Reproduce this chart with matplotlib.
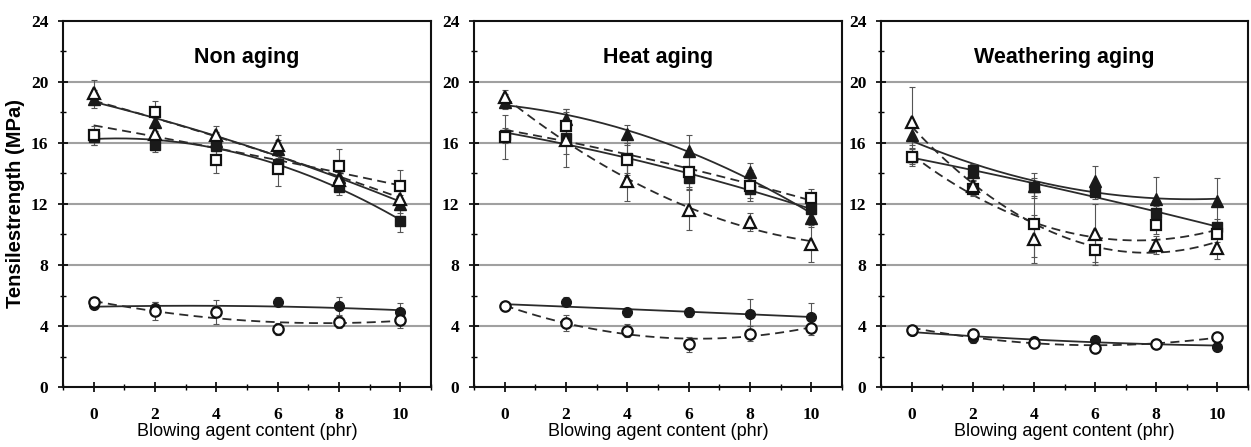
import numpy as np
import matplotlib
matplotlib.use("Agg")
import matplotlib.pyplot as plt
from matplotlib.ticker import MultipleLocator

# ---------------- data ----------------
x = [0, 2, 4, 6, 8, 10]
titles = ["Non aging", "Heat aging", "Weathering aging"]
xticks = [0, 2, 4, 6, 8, 10]
yticks = [0, 4, 8, 12, 16, 20, 24]

# Non aging
na_tri_open = [19.3, 16.6, 16.5, 15.9, 13.6, 12.3]
na_tri_fill = [18.9, 17.4, 16.1, 15.6, 13.8, 12.0]
na_sq_open = [16.5, 18.0, 14.9, 14.3, 14.5, 13.2]
na_sq_fill = [16.4, 15.9, 15.8, 14.6, 13.1, 10.9]
na_ci_open = [5.55, 5.0, 4.9, 3.8, 4.25, 4.4]
na_ci_fill = [5.4, 5.2, 5.0, 5.6, 5.3, 4.9]
na_err_tri_open = [0.8, 0.6, 0.6, 0.6, 0.7, 0.7]
na_err_tri_fill = [0.6, 0.6, 0.6, 0.6, 0.6, 0.6]
na_err_sq_open = [0.6, 0.75, 0.9, 1.1, 1.1, 1.0]
na_err_sq_fill = [0.5, 0.5, 0.5, 0.6, 0.5, 0.75]
na_err_ci_open = [0.3, 0.6, 0.8, 0.4, 0.4, 0.5]
na_err_ci_fill = [0.3, 0.4, 0.4, 0.3, 0.6, 0.6]

# Heat aging
ha_tri_open = [19.0, 16.2, 13.5, 11.6, 10.8, 9.4]
ha_tri_fill = [18.7, 17.6, 16.6, 15.5, 14.1, 11.1]
ha_sq_open = [16.4, 17.1, 14.9, 14.1, 13.2, 12.4]
ha_sq_fill = [16.5, 16.3, 15.0, 13.7, 13.0, 11.7]
ha_ci_open = [5.3, 4.2, 3.7, 2.8, 3.5, 3.9]
ha_ci_fill = [5.3, 5.6, 4.9, 4.9, 4.8, 4.6]
ha_err_tri_open = [0.5, 1.8, 1.3, 1.3, 0.6, 1.2]
ha_err_tri_fill = [0.5, 0.6, 0.6, 1.0, 0.6, 0.6]
ha_err_sq_open = [1.45, 1.1, 1.0, 1.0, 1.0, 0.6]
ha_err_sq_fill = [0.5, 1.0, 1.0, 0.7, 0.6, 0.6]
ha_err_ci_open = [0.3, 0.5, 0.4, 0.5, 0.5, 0.5]
ha_err_ci_fill = [0.3, 0.3, 0.3, 0.3, 1.0, 0.9]

# Weathering aging
wa_tri_open = [17.4, 13.2, 9.7, 10.0, 9.3, 9.1]
wa_tri_fill = [16.5, 14.1, 13.2, 13.5, 12.3, 12.2]
wa_sq_open = [15.1, 13.0, 10.7, 9.0, 10.6, 10.0]
wa_sq_fill = [15.1, 14.2, 13.1, 12.8, 11.4, 10.5]
wa_ci_open = [3.75, 3.5, 2.9, 2.55, 2.85, 3.3]
wa_ci_fill = [3.7, 3.2, 3.0, 3.1, 2.85, 2.65]
wa_err_tri_open = [2.3, 0.6, 1.6, 2.0, 0.6, 0.7]
wa_err_tri_fill = [0.6, 0.5, 0.8, 1.0, 1.5, 1.5]
wa_err_sq_open = [0.6, 0.5, 2.2, 0.8, 0.6, 0.5]
wa_err_sq_fill = [0.5, 0.4, 0.6, 0.5, 0.5, 0.5]
wa_err_ci_open = [0.2, 0.3, 0.2, 0.3, 0.2, 0.2]
wa_err_ci_fill = [0.2, 0.3, 0.2, 0.2, 0.2, 0.3]

panels = [
    dict(tri_open=na_tri_open, tri_fill=na_tri_fill, sq_open=na_sq_open, sq_fill=na_sq_fill,
         ci_open=na_ci_open, ci_fill=na_ci_fill,
         e_tri_open=na_err_tri_open, e_tri_fill=na_err_tri_fill, e_sq_open=na_err_sq_open,
         e_sq_fill=na_err_sq_fill, e_ci_open=na_err_ci_open, e_ci_fill=na_err_ci_fill),
    dict(tri_open=ha_tri_open, tri_fill=ha_tri_fill, sq_open=ha_sq_open, sq_fill=ha_sq_fill,
         ci_open=ha_ci_open, ci_fill=ha_ci_fill,
         e_tri_open=ha_err_tri_open, e_tri_fill=ha_err_tri_fill, e_sq_open=ha_err_sq_open,
         e_sq_fill=ha_err_sq_fill, e_ci_open=ha_err_ci_open, e_ci_fill=ha_err_ci_fill),
    dict(tri_open=wa_tri_open, tri_fill=wa_tri_fill, sq_open=wa_sq_open, sq_fill=wa_sq_fill,
         ci_open=wa_ci_open, ci_fill=wa_ci_fill,
         e_tri_open=wa_err_tri_open, e_tri_fill=wa_err_tri_fill, e_sq_open=wa_err_sq_open,
         e_sq_fill=wa_err_sq_fill, e_ci_open=wa_err_ci_open, e_ci_fill=wa_err_ci_fill),
]

# ---------------- styles ----------------
series = [
    # key, marker, filled, dashed, markersize
    ("sq_fill", "s", True, False, 7.0),
    ("tri_fill", "^", True, False, 8.0),
    ("ci_fill", "o", True, False, 7.0),
    ("sq_open", "s", False, True, 7.5),
    ("tri_open", "^", False, True, 8.5),
    ("ci_open", "o", False, True, 7.5),
]

fig = plt.figure(figsize=(12.51, 4.47), dpi=100)
lefts = [63, 474, 881]
rights = [431, 842, 1248]
W, H = 1251, 447
bottom_px, top_px = 387, 21

line_col = "#2b2b2b"
xs = np.linspace(0, 10, 200)

for i, (d, title) in enumerate(zip(panels, titles)):
    ax = fig.add_axes([lefts[i] / W, 1 - bottom_px / H,
                       (rights[i] - lefts[i]) / W, (bottom_px - top_px) / H])
    ax.set_xlim(-1, 11)
    ax.set_ylim(0, 24)
    for gy in [4, 8, 12, 16, 20]:
        ax.axhline(gy, color="#a0a0a0", lw=1.5, zorder=0)

    # trend lines
    for key, mk, filled, dashed, ms in series:
        coef = np.polyfit(x, d[key], 2)
        ax.plot(xs, np.polyval(coef, xs), color=line_col, lw=1.3,
                ls=(0, (5, 3)) if dashed else "-", zorder=2)
    # error bars
    for key, mk, filled, dashed, ms in series:
        ax.errorbar(x, d[key], yerr=d["e_" + key], fmt="none", ecolor="#555555",
                    elinewidth=0.8, capsize=2.5, capthick=0.8, zorder=3)
    # markers
    for j, (key, mk, filled, dashed, ms) in enumerate(series):
        if filled:
            ax.plot(x, d[key], ls="none", marker=mk, ms=ms, mfc="#1a1a1a",
                    mec="#1a1a1a", mew=1.0, zorder=4)
        else:
            ax.plot(x, d[key], ls="none", marker=mk, ms=ms, mfc="white",
                    mec="#111111", mew=1.6, zorder=5)

    ax.set_xticks(xticks)
    ax.set_yticks(yticks)
    ax.xaxis.set_minor_locator(MultipleLocator(1))
    ax.yaxis.set_minor_locator(MultipleLocator(2))
    ax.tick_params(axis="both", which="major", direction="inout", length=7, width=1.2,
                   top=False, right=False)
    ax.tick_params(axis="both", which="minor", direction="inout", length=4, width=1.0,
                   top=False, right=False)
    ax.tick_params(axis="x", which="both", pad=11)
    ax.tick_params(axis="y", which="both", pad=7)
    for lab in ax.get_xticklabels() + ax.get_yticklabels():
        lab.set_fontfamily("Liberation Serif")
        lab.set_fontweight("bold")
        lab.set_fontsize(12.5)
    for sp in ax.spines.values():
        sp.set_linewidth(1.5)
        sp.set_color("#111111")

    ax.text(5, 21.6, title, ha="center", va="center", fontsize=15.5,
            fontweight="bold", family="Liberation Sans")
    ax.set_xlabel("Blowing agent content (phr)", fontsize=13, family="Liberation Sans",
                  labelpad=0)
    if i == 0:
        ax.set_ylabel("Tensilestrength (MPa)", fontsize=14.5, fontweight="bold",
                      family="Liberation Sans", labelpad=4)

fig.savefig("out.png", dpi=100)
